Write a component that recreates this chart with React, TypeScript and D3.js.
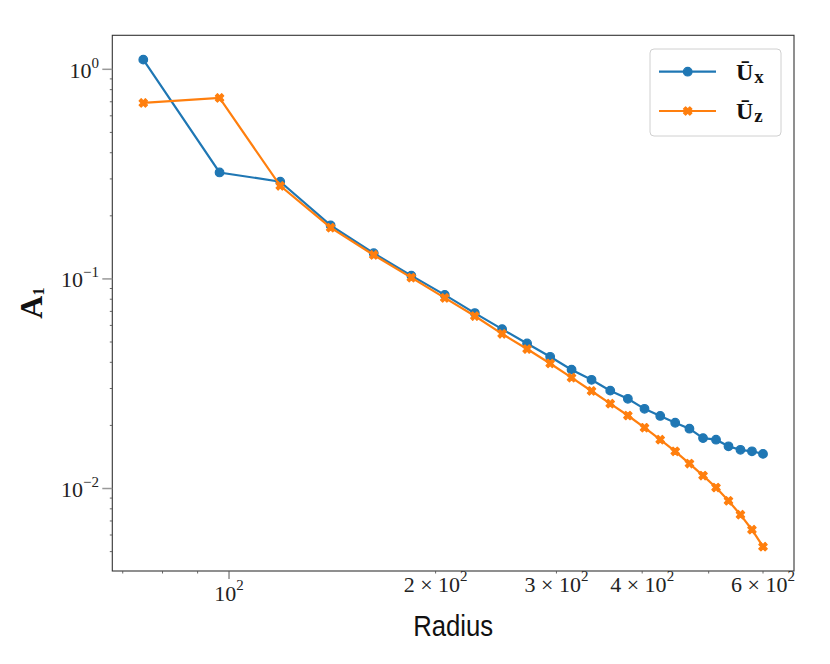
import React from "react";
import * as d3 from "d3";

const radius = [75, 96.875, 118.75, 140.625, 162.5, 184.375, 206.25, 228.125, 250, 271.875, 293.75, 315.625, 337.5, 359.375, 381.25, 403.125, 425, 446.875, 468.75, 490.625, 512.5, 534.375, 556.25, 578.125, 600];
const ux = [1.112, 0.322, 0.291, 0.18, 0.1326, 0.1037, 0.0839, 0.0687, 0.0576, 0.0492, 0.0425, 0.0369, 0.033, 0.0293, 0.0268, 0.024, 0.0222, 0.0206, 0.0193, 0.0174, 0.0171, 0.0159, 0.0153, 0.01505, 0.01463];
const uz = [0.691, 0.73, 0.278, 0.1755, 0.1301, 0.1014, 0.0812, 0.0665, 0.0547, 0.0463, 0.0395, 0.0338, 0.0292, 0.0254, 0.0223, 0.0195, 0.0171, 0.01505, 0.01315, 0.01153, 0.01011, 0.00874, 0.0075, 0.00636, 0.00528];

const xMajorTicks = [100];
const xMajorLabels = ["2"];
const xMinorTicks = [70, 80, 90, 200, 300, 400, 500, 600];
const xMinorLabels = ["", "", "", "2", "3", "4", "", "6"];
const yMajorTicks = [1, 0.1, 0.01];
const yMajorLabels = ["0", "\u22121", "\u22122"];
const yMinorTicks = [0.004, 0.005, 0.006, 0.007, 0.008, 0.009, 0.02, 0.03, 0.04, 0.05, 0.06, 0.07, 0.08, 0.09, 0.2, 0.3, 0.4, 0.5, 0.6, 0.7, 0.8, 0.9];

const C_UX = "#1f77b4";
const C_UZ = "#ff7f0e";
const SERIF = "'Liberation Serif', 'DejaVu Serif', serif";
const SANS = "'Liberation Sans', 'DejaVu Sans', sans-serif";

const L = 112.3, R = 794, T = 35.3, B = 571;

function logPad(vals: number[]) {
  const lo = Math.log10(d3.min(vals)!);
  const hi = Math.log10(d3.max(vals)!);
  const p = (hi - lo) * 0.05;
  return [Math.pow(10, lo - p), Math.pow(10, hi + p)];
}

const xs = d3.scaleLog().domain(logPad(radius)).range([L, R]);
const ys = d3.scaleLog().domain(logPad([...ux, ...uz])).range([B, T]);

// matplotlib filled 'X' marker unit vertices
const xUnit = [
  [0.25, 0], [0.5, 0.25], [0.75, 0], [1, 0.25], [0.75, 0.5], [1, 0.75],
  [0.75, 1], [0.5, 0.75], [0.25, 1], [0, 0.75], [0.25, 0.5], [0, 0.25],
];
const MS = 8.4;
const xMarkerPath =
  "M" + xUnit.map(([a, b]) => `${((a - 0.5) * MS).toFixed(2)},${((b - 0.5) * MS).toFixed(2)}`).join("L") + "Z";

export default function App() {
  const lineGen = (vals: number[]) =>
    d3.line<number>().x((_, i) => xs(radius[i])).y((v) => ys(v))(vals) || "";

  const inY = (v: number) => ys(v) >= T - 0.5 && ys(v) <= B + 0.5;
  const inX = (v: number) => xs(v) >= L - 0.5 && xs(v) <= R + 0.5;

  return (
    <svg width={830} height={664} style={{ position: "absolute", left: 0, top: 0, background: "#fff" }}>
      <rect x={0} y={0} width={830} height={664} fill="#fff" />
      <defs>
        <clipPath id="plotclip">
          <rect x={L} y={T} width={R - L} height={B - T} />
        </clipPath>
      </defs>

      {/* data */}
      <g clipPath="url(#plotclip)">
        <path d={lineGen(ux)} fill="none" stroke={C_UX} strokeWidth={2.2} />
        {ux.map((v, i) => (
          <circle key={"ux" + i} cx={xs(radius[i])} cy={ys(v)} r={4.3} fill={C_UX} stroke={C_UX} strokeWidth={1.2} />
        ))}
        <path d={lineGen(uz)} fill="none" stroke={C_UZ} strokeWidth={2.2} />
        {uz.map((v, i) => (
          <path key={"uz" + i} d={xMarkerPath} transform={`translate(${xs(radius[i])},${ys(v)})`} fill={C_UZ} stroke={C_UZ} strokeWidth={1.2} strokeLinejoin="round" />
        ))}
      </g>

      {/* frame */}
      <rect x={L} y={T} width={R - L} height={B - T} fill="none" stroke="#333" strokeWidth={1.1} />

      {/* x ticks */}
      {xMajorTicks.map((t, i) => (
        <g key={"xM" + i}>
          <line x1={xs(t)} x2={xs(t)} y1={B} y2={B + 8} stroke="#555" strokeWidth={1} />
          <text x={xs(t)} y={601} textAnchor="middle" fontFamily={SERIF} fontSize={22} fill="#222">
            10<tspan dy={-11} fontSize={15}>{xMajorLabels[i]}</tspan>
          </text>
        </g>
      ))}
      {xMinorTicks.filter(inX).map((t) => {
        const lab = xMinorLabels[xMinorTicks.indexOf(t)];
        return (
          <g key={"xm" + t}>
            <line x1={xs(t)} x2={xs(t)} y1={B} y2={B + 2.5} stroke="#555" strokeWidth={0.9} />
            {lab && (
              <text x={xs(t)} y={592} textAnchor="middle" fontFamily={SERIF} fontSize={22} fill="#222">
                {lab} × 10<tspan dy={-11} fontSize={15}>2</tspan>
              </text>
            )}
          </g>
        );
      })}

      {/* y ticks */}
      {yMajorTicks.map((t, i) => (
        <g key={"yM" + i}>
          <line x1={L - 10} x2={L} y1={ys(t)} y2={ys(t)} stroke="#999" strokeWidth={1.5} />
          <text x={99} y={ys(t) + 8.5} textAnchor="end" fontFamily={SERIF} fontSize={22} fill="#222">
            10<tspan dy={-10} fontSize={15}>{yMajorLabels[i]}</tspan>
          </text>
        </g>
      ))}
      {yMinorTicks.filter(inY).map((t) => (
        <line key={"ym" + t} x1={L - 2.5} x2={L} y1={ys(t)} y2={ys(t)} stroke="#555" strokeWidth={0.9} />
      ))}

      {/* axis labels */}
      <text x={(L + R) / 2} y={636} textAnchor="middle" fontFamily={SANS} fontSize={30} textLength={80} lengthAdjust="spacingAndGlyphs" fill="#111">
        Radius
      </text>
      <text transform={`translate(41.7,${(T + B) / 2}) rotate(-90)`} textAnchor="middle" fontFamily={SERIF} fontWeight="bold" fontSize={32} fill="#111">
        A<tspan dy={2} fontSize={16}>1</tspan>
      </text>

      {/* legend */}
      <rect x={650} y={49} width={131} height={87} rx={4} fill="#fff" stroke="#d0d0d0" strokeWidth={1} />
      <line x1={659} x2={716} y1={71.7} y2={71.7} stroke={C_UX} strokeWidth={2.2} />
      <circle cx={687.7} cy={71.7} r={4.3} fill={C_UX} stroke={C_UX} strokeWidth={1.2} />
      <text x={736} y={80} fontFamily={SERIF} fontSize={24} fill="#111">
        <tspan fontWeight="bold">Ū</tspan>
        <tspan dx={1} dy={3} fontSize={19} fontWeight="bold">x</tspan>
      </text>
      <line x1={659} x2={716} y1={111} y2={111} stroke={C_UZ} strokeWidth={2.2} />
      <path d={xMarkerPath} transform="translate(687.7,111)" fill={C_UZ} stroke={C_UZ} strokeWidth={1.2} strokeLinejoin="round" />
      <text x={736} y={119} fontFamily={SERIF} fontSize={24} fill="#111">
        <tspan fontWeight="bold">Ū</tspan>
        <tspan dx={1} dy={3} fontSize={19} fontWeight="bold">z</tspan>
      </text>
    </svg>
  );
}
